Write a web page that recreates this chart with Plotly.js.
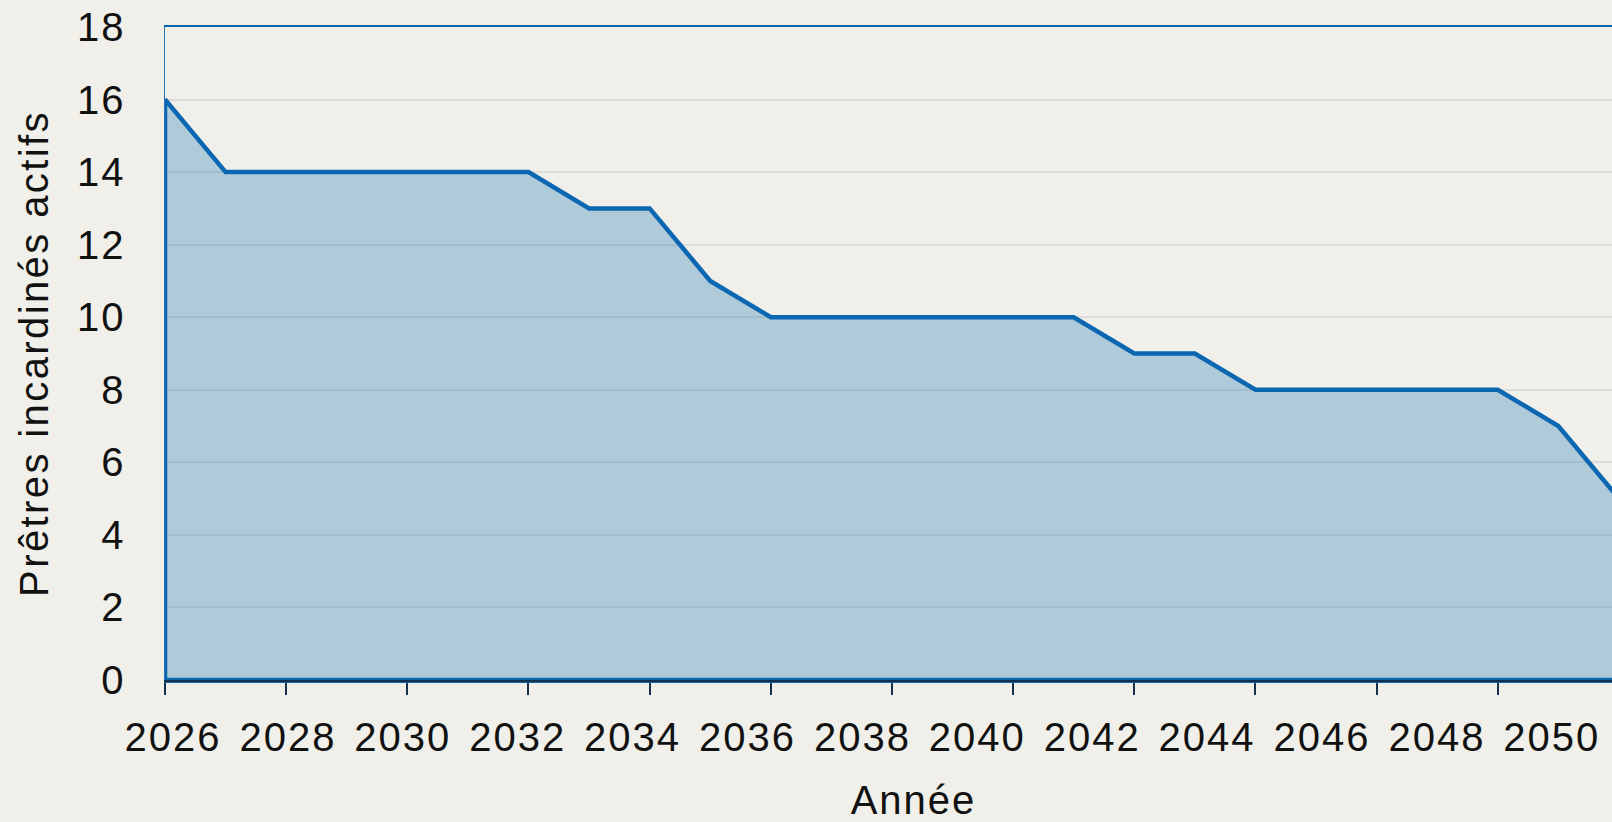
<!DOCTYPE html>
<html>
<head>
<meta charset="utf-8">
<script src="https://cdn.plot.ly/plotly-3.0.1.min.js"></script>
<style>
  html, body { margin: 0; padding: 0; overflow: hidden; background: #f0efe9; width: 1612px; height: 822px; }
  #chart { width: 1700px; height: 822px; }
  #chart svg text { letter-spacing: 2px; }
  #chart svg .g-ytitle text { letter-spacing: 2.4px; }
</style>
</head>
<body>
<div id="chart"></div>
<script>
// ---- data ----
const years = [2026, 2027, 2028, 2029, 2030, 2031, 2032, 2033, 2034, 2035, 2036, 2037, 2038,
               2039, 2040, 2041, 2042, 2043, 2044, 2045, 2046, 2047, 2048, 2049, 2050];
const priests = [16, 14, 14, 14, 14, 14, 14, 13, 13, 11, 10, 10, 10,
                 10, 10, 10, 9, 9, 8, 8, 8, 8, 8, 7, 5];
const tickYears = [2026, 2028, 2030, 2032, 2034, 2036, 2038, 2040, 2042, 2044, 2046, 2048, 2050];
const tickLabels = ["2026", "2028", "2030", "2032", "2034", "2036", "2038", "2040", "2042", "2044", "2046", "2048", "2050"];
const yTicks = [0, 2, 4, 6, 8, 10, 12, 14, 16, 18];
const yTitle = "Prêtres incardinés actifs";
const xTitle = "Année";

// closed outline of the area (baseline -> series -> baseline)
const first = years[0], last = years[years.length - 1];
const polyX = [first].concat(years, [last, first]);
const polyY = [0].concat(priests, [0, 0]);

const FONT = "Liberation Sans, Arial, Helvetica, sans-serif";
const BG = "#f0efe9";
const LINE = "#0b67b1";
const NAVY = "#16324a";

const plotW = 1497;            // plot-area width in px
const pxPerYearData = 60.58;
const pxPerYearLabel = 57.45;
const labelStart = first - 8 / pxPerYearLabel;

const traces = [
  {
    x: polyX, y: polyY,
    type: "scatter", mode: "lines",
    fill: "toself",
    fillcolor: "rgba(37,123,180,0.32)",
    line: { color: LINE, width: 4.5 },
    hoverinfo: "skip", showlegend: false
  },
  {
    x: [tickYears[0]], y: [0], xaxis: "x2", yaxis: "y",
    type: "scatter", mode: "markers",
    marker: { opacity: 0 }, hoverinfo: "skip", showlegend: false
  }
];

const layout = {
  width: 1700, height: 822,
  margin: { l: 165, r: 1700 - 165 - plotW, t: 27, b: 142 },
  paper_bgcolor: BG, plot_bgcolor: BG,
  font: { family: FONT, color: "#111111", size: 40 },
  showlegend: false,
  xaxis: {
    range: [first, first + plotW / pxPerYearData],
    tickmode: "array", tickvals: tickYears, showticklabels: false,
    ticks: "outside", ticklen: 12, tickwidth: 2, tickcolor: NAVY,
    showline: true, linecolor: LINE, linewidth: 2.5, mirror: true,
    showgrid: false, zeroline: false,
    title: { text: xTitle, font: { family: FONT, size: 40, color: "#111111" }, standoff: 95 },
    automargin: false
  },
  xaxis2: {
    overlaying: "x", anchor: "y", side: "bottom",
    range: [labelStart, labelStart + plotW / pxPerYearLabel],
    tickmode: "array", tickvals: tickYears, ticktext: tickLabels,
    ticks: "", showline: true, linecolor: NAVY, linewidth: 2,
    showgrid: false, zeroline: false,
    tickfont: { family: FONT, size: 40, color: "#111111" },
    ticklabelstandoff: 21,
    automargin: false
  },
  yaxis: {
    range: [0, 18],
    tickmode: "array", tickvals: yTicks,
    ticks: "", showline: true, linecolor: "#2a74b6", linewidth: 1.5,
    showgrid: true, gridcolor: "#dcdcdc", gridwidth: 2,
    zeroline: false,
    tickfont: { family: FONT, size: 40, color: "#111111" },
    ticklabelstandoff: 30,
    title: { text: yTitle, font: { family: FONT, size: 40, color: "#111111" }, standoff: 20 },
    automargin: false
  }
};

Plotly.newPlot("chart", traces, layout, { displayModeBar: false, staticPlot: true });
</script>
</body>
</html>
